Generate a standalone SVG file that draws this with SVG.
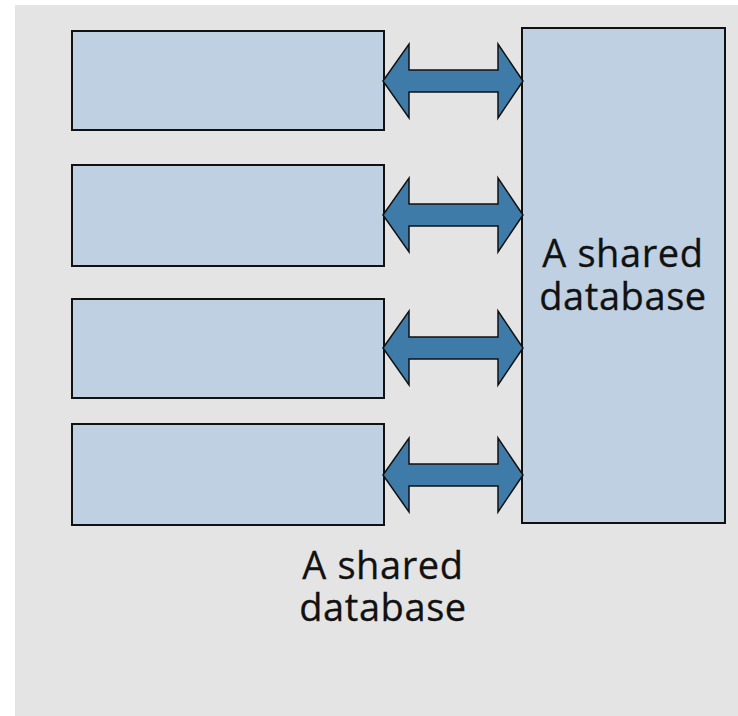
<svg xmlns="http://www.w3.org/2000/svg" width="738" height="716" viewBox="0 0 738 716">
<style>
.box{fill:#bed0e1;stroke:#111;stroke-width:2}
.arr{fill:#3f7ba9;stroke:#111;stroke-width:1.5;stroke-linejoin:miter}
.lbl{font-family:"Open Sans","Noto Sans",sans-serif;font-size:38px;letter-spacing:0.6px;fill:#111;stroke:#111;stroke-width:0.3;text-anchor:middle}
</style>
<defs>
<path id="dbl" d="M383,0 L409,-37 L409,-11 L498,-11 L498,-37 L523,0 L498,37 L498,11 L409,11 L409,37 Z"/>
</defs>
<rect x="15" y="5" width="723" height="711" fill="#e4e4e4"/>
<g id="app1"><rect class="box" x="72" y="31" width="312" height="99"/></g>
<g id="app2"><rect class="box" x="72" y="165" width="312" height="101"/></g>
<g id="app3"><rect class="box" x="72" y="299" width="312" height="99"/></g>
<g id="app4"><rect class="box" x="72" y="424" width="312" height="101"/></g>
<g id="db">
<rect class="box" x="522" y="28" width="203" height="495"/>
<text class="lbl"><tspan x="623" y="267">A shared</tspan><tspan x="623" y="310">database</tspan></text>
</g>
<g id="connectors">
<use href="#dbl" class="arr" transform="translate(0,81)"/>
<use href="#dbl" class="arr" transform="translate(0,215)"/>
<use href="#dbl" class="arr" transform="translate(0,348)"/>
<use href="#dbl" class="arr" transform="translate(0,475)"/>
</g>
<g id="caption">
<text class="lbl"><tspan x="383" y="579">A shared</tspan><tspan x="383" y="621">database</tspan></text>
</g>
</svg>
